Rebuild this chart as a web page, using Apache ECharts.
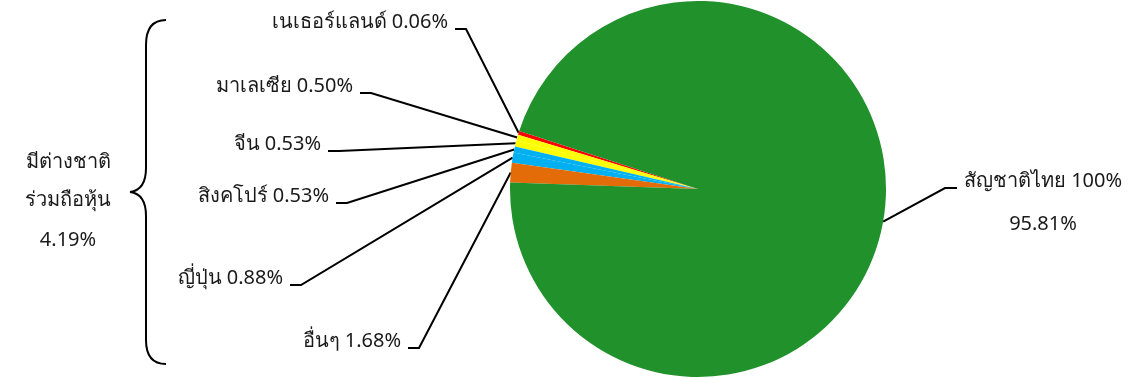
<!DOCTYPE html>
<html lang="th">
<head>
  <meta charset="UTF-8">
  <title>สัดส่วนผู้ถือหุ้น</title>
  <style>
    html, body { margin: 0; padding: 0; background: #fff; }
    #main { width: 1128px; height: 378px; }
  </style>
</head>
<body>
  <div id="main"></div>
  <script src="https://cdn.jsdelivr.net/npm/echarts@6/dist/echarts.min.js"></script>
  <script>
    // data
    const names = ['เนเธอร์แลนด์', 'มาเลเซีย', 'จีน', 'สิงคโปร์', 'ญี่ปุ่น', 'อื่นๆ', 'สัญชาติไทย 100%'];
    const values = [0.06, 0.50, 0.53, 0.53, 0.88, 1.68, 95.81];
    const colors = ['#FF0000', '#FFFF00', '#FFFF00', '#00B0F0', '#00B0F0', '#E36C09', '#21912C'];
    const groupText = ['มีต่างชาติ', 'ร่วมถือหุ้น', '4.19%'];

    // where each label sits (right edge / centre, middle y)
    const labelSpots = [
      [448, 22], [353, 86], [321, 144], [329, 196], [283, 278], [401, 341], [1043, 203]
    ];

    const font = "'Noto Sans', 'DejaVu Sans', sans-serif";
    const myChart = echarts.init(document.getElementById('main'));

    // curly brace made of curves and lines
    const braceStyle = { fill: 'none', stroke: '#000', lineWidth: 2 };
    const brace = [
      { type: 'bezierCurve', shape: { x1: 166, y1: 20, cpx1: 146, cpy1: 20, x2: 146, y2: 45 } },
      { type: 'line', shape: { x1: 146, y1: 45, x2: 146, y2: 168 } },
      { type: 'bezierCurve', shape: { x1: 146, y1: 168, cpx1: 146, cpy1: 190, x2: 130, y2: 192 } },
      { type: 'bezierCurve', shape: { x1: 130, y1: 192, cpx1: 146, cpy1: 194, x2: 146, y2: 216 } },
      { type: 'line', shape: { x1: 146, y1: 216, x2: 146, y2: 340 } },
      { type: 'bezierCurve', shape: { x1: 146, y1: 340, cpx1: 146, cpy1: 364, x2: 166, y2: 364 } }
    ].map(e => Object.assign(e, { style: braceStyle, silent: true }));

    const option = {
      backgroundColor: '#fff',
      animation: false,
      series: [{
        type: 'pie',
        center: [698, 189],
        radius: 188,
        startAngle: 162,
        clockwise: false,
        minAngle: 1.2,
        avoidLabelOverlap: false,
        emphasis: { disabled: true },
        data: names.map((n, i) => ({
          name: n,
          value: values[i],
          itemStyle: { color: colors[i] }
        })),
        label: {
          show: true,
          color: '#1a1a1a',
          fontFamily: font,
          fontSize: 20,
          formatter: p => p.dataIndex === names.length - 1
            ? p.name + '\n' + p.value.toFixed(2) + '%'
            : p.name + ' ' + p.value.toFixed(2) + '%',
          lineHeight: 43
        },
        labelLine: {
          show: true,
          lineStyle: { color: '#000', width: 2 }
        },
        labelLayout: function (params) {
          const i = params.dataIndex;
          const s = labelSpots[i];
          const start = params.labelLinePoints ? params.labelLinePoints[0] : [698, 189];
          if (i === names.length - 1) {
            const ly = s[1] - 15;
            return {
              x: s[0], y: s[1], align: 'center', verticalAlign: 'middle',
              labelLinePoints: [start, [945, ly], [957, ly]]
            };
          }
          const ly = s[1] + 7;
          return {
            x: s[0], y: s[1], align: 'right', verticalAlign: 'middle',
            labelLinePoints: [start, [s[0] + 18, ly], [s[0] + 7, ly]]
          };
        }
      }],
      graphic: [
        ...brace,
        ...groupText.map((t, i) => ({
          type: 'text',
          x: 68,
          y: [162, 200, 240][i],
          style: {
            text: t,
            fill: '#1a1a1a',
            font: '20px ' + font,
            align: 'center',
            verticalAlign: 'middle'
          }
        }))
      ]
    };

    myChart.setOption(option);
  </script>
</body>
</html>
